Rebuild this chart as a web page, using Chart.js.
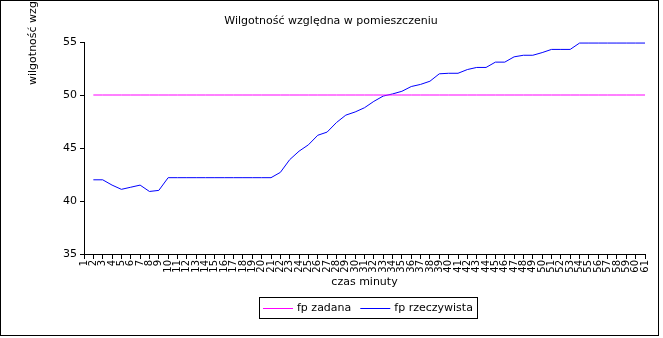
<!DOCTYPE html>
<html>
<head>
<meta charset="utf-8">
<script src="https://cdn.jsdelivr.net/npm/chart.js@4/dist/chart.umd.min.js"></script>
<style>
  html, body { margin: 0; padding: 0; background: #fff; }
  #wrap { width: 663px; height: 338px; }
</style>
</head>
<body>
<div id="wrap"><canvas id="myChart" width="663" height="338"></canvas></div>
<script>
const minutes = [];
for (let m = 1; m <= 61; m++) minutes.push(String(m));

const fpZadana = [null,
  50, 50, 50, 50, 50, 50, 50, 50, 50, 50,
  50, 50, 50, 50, 50, 50, 50, 50, 50, 50,
  50, 50, 50, 50, 50, 50, 50, 50, 50, 50,
  50, 50, 50, 50, 50, 50, 50, 50, 50, 50,
  50, 50, 50, 50, 50, 50, 50, 50, 50, 50,
  50, 50, 50, 50, 50, 50, 50, 50, 50, 50];

const fpRzeczywista = [null,
  42.0, 42.0, 41.5, 41.1, 41.3, 41.5, 40.9, 41.0, 42.2, 42.2,
  42.2, 42.2, 42.2, 42.2, 42.2, 42.2, 42.2, 42.2, 42.2, 42.2,
  42.7, 43.9, 44.7, 45.3, 46.2, 46.5, 47.4, 48.1, 48.4, 48.8,
  49.4, 49.9, 50.1, 50.35, 50.8, 51.0, 51.3, 52.0, 52.05, 52.05,
  52.4, 52.6, 52.6, 53.1, 53.1, 53.6, 53.75, 53.75, 54.0, 54.3,
  54.3, 54.3, 54.9, 54.9, 54.9, 54.9, 54.9, 54.9, 54.9, 54.9];

const yTicks = [35, 40, 45, 50, 55];

const titleText = 'Wilgotność względna w pomieszczeniu';
const yTitle = 'wilgotność względna';
const xTitle = 'czas minuty';
const FONT = '"DejaVu Sans", sans-serif';

const extras = {
    id: 'extras',
    afterDraw(chart) {
        const ctx = chart.ctx;
        ctx.save();
        ctx.fillStyle = '#000';
        ctx.strokeStyle = '#000';
        ctx.lineWidth = 1;

        // frame
        ctx.strokeRect(0.5, 0.5, 658, 335);

        ctx.font = '11px ' + FONT;
        ctx.textAlign = 'center';
        ctx.textBaseline = 'middle';
        ctx.fillText(titleText, 331, 21);

        const area = chart.chartArea;
        ctx.fillText(xTitle, (area.left + area.right) / 2, 282);

        // y title, start at y=85 going up
        ctx.save();
        ctx.translate(33, 85);
        ctx.rotate(-Math.PI / 2);
        ctx.textAlign = 'left';
        ctx.fillText(yTitle, 0, 0);
        ctx.restore();

        // legend
        ctx.strokeRect(259.5, 297.5, 218, 21);
        ctx.textAlign = 'left';
        let x = 263;
        chart.data.datasets.forEach(ds => {
            ctx.strokeStyle = ds.borderColor;
            ctx.beginPath();
            ctx.moveTo(x, 308.5);
            ctx.lineTo(x + 30, 308.5);
            ctx.stroke();
            ctx.fillText(ds.label, x + 34, 308);
            x += 34 + ctx.measureText(ds.label).width + 9;
        });
        ctx.restore();
    }
};

const myChart = new Chart('myChart', {
    type: 'line',
    data: {
        labels: minutes,
        datasets: [{
            label: 'fp zadana',
            data: fpZadana,
            borderColor: '#ff00ff',
            borderWidth: 1,
            pointRadius: 0,
            tension: 0
        }, {
            label: 'fp rzeczywista',
            data: fpRzeczywista,
            borderColor: '#0000ff',
            borderWidth: 1,
            pointRadius: 0,
            tension: 0
        }]
    },
    options: {
        responsive: false,
        animation: false,
        layout: { padding: { left: 0, top: 42, right: 18, bottom: 0 } },
        plugins: {
            legend: { display: false },
            title: { display: false },
            tooltip: { enabled: false }
        },
        scales: {
            x: {
                offset: false,
                border: { display: true, color: '#000' },
                grid: { drawOnChartArea: false, drawTicks: true, tickLength: 5, color: '#000' },
                ticks: {
                    autoSkip: false,
                    minRotation: 90,
                    maxRotation: 90,
                    padding: 1,
                    color: '#000',
                    font: { family: FONT, size: 10 }
                },
                afterFit(scale) { scale.height = 84; }
            },
            y: {
                min: 35,
                max: 55,
                afterBuildTicks(scale) { scale.ticks = yTicks.map(v => ({ value: v })); },
                border: { display: true, color: '#000' },
                grid: { drawOnChartArea: false, drawTicks: true, tickLength: 4, color: '#000' },
                ticks: {
                    padding: 3,
                    color: '#000',
                    font: { family: FONT, size: 11 }
                },
                afterFit(scale) { scale.width = 84; }
            }
        }
    },
    plugins: [extras]
});
</script>
</body>
</html>
